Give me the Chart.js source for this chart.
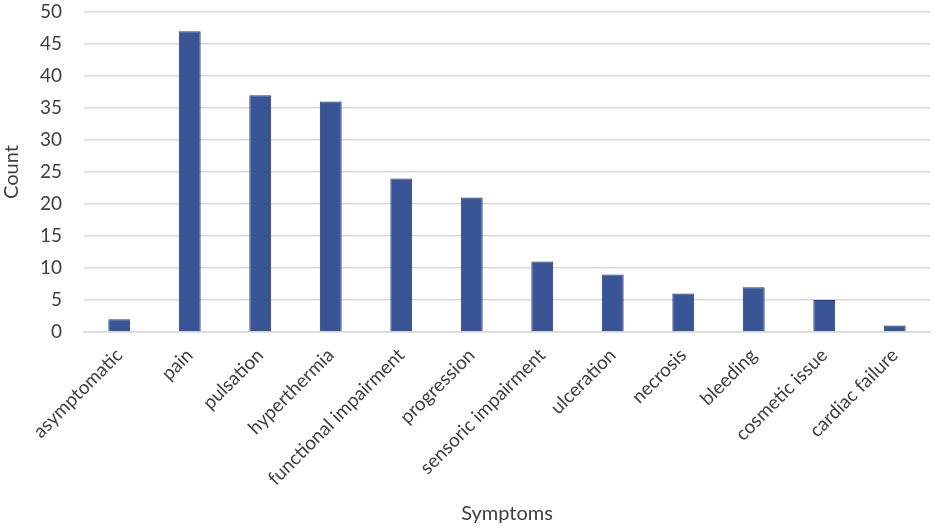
<!DOCTYPE html>
<html>
<head>
<meta charset="utf-8">
<script src="https://cdn.jsdelivr.net/npm/chart.js@4"></script>
<style>
  html, body { margin: 0; padding: 0; background: #fff; }
  #wrap { width: 935px; height: 530px; }
</style>
</head>
<body>
<div id="wrap"><canvas id="chart" width="935" height="530"></canvas></div>
<script>
const symptoms = ['asymptomatic', 'pain', 'pulsation', 'hyperthermia', 'functional impairment',
  'progression', 'sensoric impairment', 'ulceration', 'necrosis', 'bleeding', 'cosmetic issue', 'cardiac failure'];
const counts = [2, 47, 37, 36, 24, 21, 11, 9, 6, 7, 5, 1];
const yTicks = [0, 5, 10, 15, 20, 25, 30, 35, 40, 45, 50];

const FONT = 'Lato';
const TEXT = '#404040';

new Chart(document.getElementById('chart'), {
  type: 'bar',
  data: {
    labels: symptoms,
    datasets: [{
      data: counts,
      backgroundColor: '#3a5595',
      borderColor: '#1f3a80',
      borderWidth: 1,
      barPercentage: 0.31,
      categoryPercentage: 1
    }]
  },
  options: {
    responsive: false,
    animation: false,
    layout: { padding: { top: 12, right: 5, bottom: 4, left: 0 } },
    plugins: { legend: { display: false }, tooltip: { enabled: false } },
    scales: {
      x: {
        grid: { display: false },
        border: { color: '#d9d9d9', width: 1.5 },
        ticks: {
          color: TEXT, font: { family: FONT, size: 19 },
          minRotation: 45, maxRotation: 45, padding: 4
        },
        title: { display: true, text: 'Symptoms', color: TEXT, font: { family: FONT, size: 20 }, padding: { top: 0, bottom: 0 } },
        afterFit: s => { s.height = 194; s.paddingLeft = 0; s.paddingRight = 0; }
      },
      y: {
        min: 0, max: 50,
        afterBuildTicks: s => { s.ticks = yTicks.map(v => ({ value: v })); },
        grid: { color: '#d9d9d9', lineWidth: 1.5, drawTicks: false },
        border: { display: false },
        ticks: { color: TEXT, font: { family: FONT, size: 19 }, padding: 22 },
        title: { display: true, text: 'Count', color: TEXT, font: { family: FONT, size: 20 }, padding: 0 },
        afterFit: s => { s.width = 84; s.paddingTop = 0; s.paddingBottom = 0; }
      }
    }
  }
});
</script>
</body>
</html>
